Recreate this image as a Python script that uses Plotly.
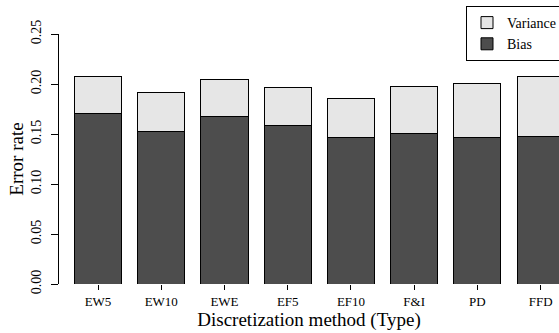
import plotly.graph_objects as go

methods = ["EW5", "EW10", "EWE", "EF5", "EF10", "F&I", "PD", "FFD"]
bias = [0.171, 0.153, 0.168, 0.159, 0.147, 0.151, 0.147, 0.148]
total = [0.208, 0.192, 0.205, 0.197, 0.186, 0.198, 0.201, 0.208]
variance = [round(t - b, 3) for t, b in zip(total, bias)]
y_ticks = [0.00, 0.05, 0.10, 0.15, 0.20, 0.25]

FONT = "Liberation Serif"

fig = go.Figure()
fig.add_trace(go.Bar(
    x=methods, y=bias, name="Bias",
    marker=dict(color="#4d4d4d", line=dict(color="black", width=1)),
))
fig.add_trace(go.Bar(
    x=methods, y=variance, name="Variance",
    marker=dict(color="#e6e6e6", line=dict(color="black", width=1)),
))

fig.update_layout(
    width=559, height=333,
    barmode="stack", bargap=0.256,
    margin=dict(l=59, r=0, t=34, b=49, autoexpand=False),
    paper_bgcolor="white", plot_bgcolor="white",
    font=dict(family=FONT, size=13, color="black"),
    showlegend=True,
    legend=dict(
        xref="container", yref="container",
        x=466 / 559, y=1 - 6 / 333, xanchor="left", yanchor="top",
        traceorder="reversed",
        bordercolor="black", borderwidth=1, bgcolor="white",
        font=dict(family=FONT, size=14, color="black"),
        itemwidth=30, tracegroupgap=0,
    ),
)
fig.update_xaxes(
    type="category", range=[-0.617, 7.29],
    showline=False, showgrid=False, zeroline=False,
    ticks="outside", ticklen=5, tickcolor="black", tickwidth=1,
    tickfont=dict(family=FONT, size=13),
    title=dict(text="Discretization method (Type)", font=dict(family=FONT, size=19), standoff=3),
)
fig.update_yaxes(
    range=[0, 0.25], tickvals=y_ticks, tickformat=".2f",
    showline=True, linecolor="black", linewidth=1,
    showgrid=False, zeroline=False,
    ticks="outside", ticklen=7, tickcolor="black", tickwidth=1,
    tickangle=-90,
    tickfont=dict(family=FONT, size=14),
    ticklabelstandoff=4,
    title=dict(text="Error rate", font=dict(family=FONT, size=19), standoff=0),
)

fig.write_html("out.html")
